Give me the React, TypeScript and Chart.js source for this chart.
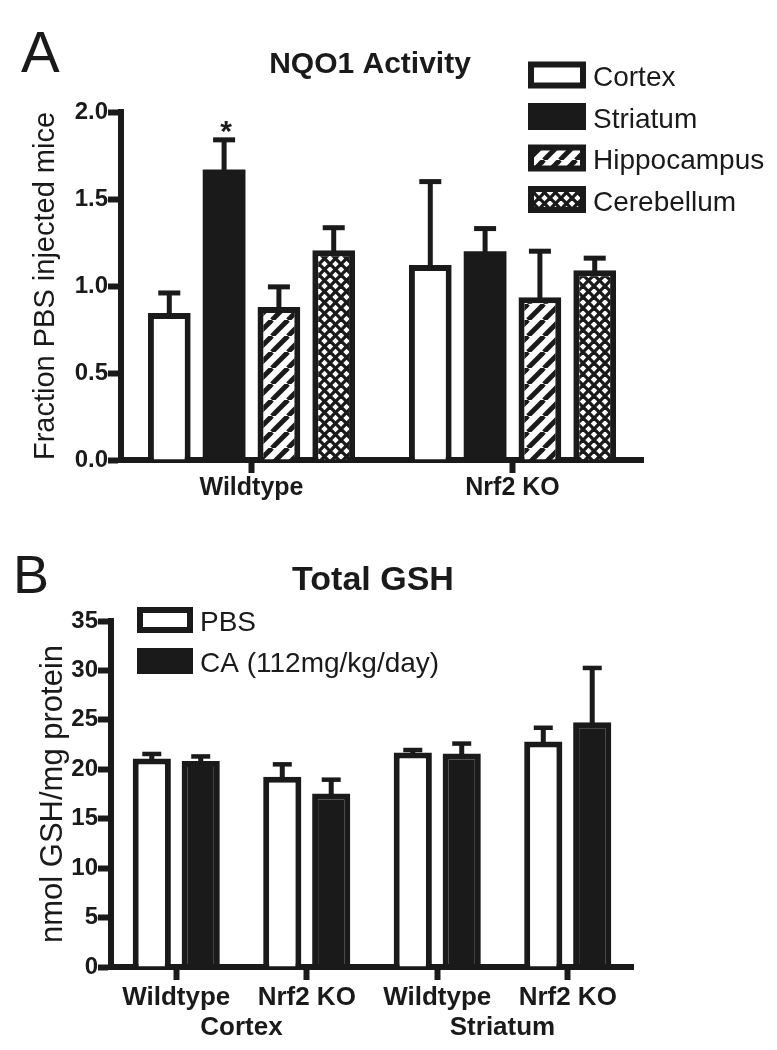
import React, { useEffect, useRef } from "react";
import { Chart, registerables } from "chart.js";

Chart.register(...registerables);

const FONT = '"Liberation Sans", Arial, Helvetica, sans-serif';
const INK = "#1a1a1a";

// ---------- Panel A : NQO1 Activity ----------
const panelLetterA = "A";
const titleA = "NQO1 Activity";
const yLabelA = "Fraction PBS injected mice";
const groupsA = ["Wildtype", "Nrf2 KO"];
const regionsA = ["Cortex", "Striatum", "Hippocampus", "Cerebellum"];
const cortexMean = [0.845, 1.12];
const cortexSem = [0.115, 0.48];
const striatumMean = [1.67, 1.2];
const striatumSem = [0.17, 0.13];
const hippocampusMean = [0.88, 0.935];
const hippocampusSem = [0.115, 0.265];
const cerebellumMean = [1.205, 1.09];
const cerebellumSem = [0.13, 0.07];
const significanceA = [
  ["", ""],
  ["*", ""],
  ["", ""],
  ["", ""],
];
const yMinA = 0;
const yMaxA = 2;
const yStepA = 0.5;

// ---------- Panel B : Total GSH ----------
const panelLetterB = "B";
const titleB = "Total GSH";
const yLabelB = "nmol GSH/mg protein";
const genotypesB = ["Wildtype", "Nrf2 KO", "Wildtype", "Nrf2 KO"];
const tissuesB = ["Cortex", "Striatum"];
const treatmentsB = ["PBS", "CA (112mg/kg/day)"];
const pbsMean = [21.1, 19.25, 21.7, 22.8];
const pbsSem = [0.45, 1.25, 0.25, 1.4];
const caMean = [20.85, 17.55, 21.6, 24.75];
const caSem = [0.45, 1.4, 1.0, 5.5];
const yMinB = 0;
const yMaxB = 35;
const yStepB = 5;

function makePattern(kind: "stripe" | "cross"): CanvasPattern {
  const c = document.createElement("canvas");
  const s = kind === "stripe" ? 16 : 11;
  c.width = s;
  c.height = s;
  const g = c.getContext("2d")!;
  g.fillStyle = "#fff";
  g.fillRect(0, 0, s, s);
  g.strokeStyle = INK;
  if (kind === "stripe") {
    g.lineWidth = 5;
    for (const o of [-s, 0, s]) {
      g.beginPath();
      g.moveTo(o, s);
      g.lineTo(o + s, 0);
      g.stroke();
    }
  } else {
    g.lineWidth = 3.3;
    for (const o of [-s, 0, s]) {
      g.beginPath();
      g.moveTo(o, s);
      g.lineTo(o + s, 0);
      g.stroke();
      g.beginPath();
      g.moveTo(o, 0);
      g.lineTo(o + s, s);
      g.stroke();
    }
  }
  return g.createPattern(c, "repeat")!;
}

function errorBars(id: string, lineW: number, capW: number, capT: number) {
  return {
    id,
    afterDatasetsDraw(chart: any) {
      const ctx = chart.ctx;
      const y = chart.scales.y;
      chart.data.datasets.forEach((ds: any, di: number) => {
        const meta = chart.getDatasetMeta(di);
        meta.data.forEach((el: any, i: number) => {
          const top = y.getPixelForValue(ds.data[i] + ds.sem[i]);
          ctx.save();
          ctx.fillStyle = INK;
          ctx.fillRect(el.x - lineW / 2, top, lineW, el.y - top + 2);
          ctx.fillRect(el.x - capW / 2, top - capT / 2, capW, capT);
          if (ds.sig && ds.sig[i]) {
            ctx.font = `bold 30px ${FONT}`;
            ctx.textAlign = "center";
            ctx.textBaseline = "alphabetic";
            ctx.fillText(ds.sig[i], el.x + 2, top + 1);
          }
          ctx.restore();
        });
      });
    },
  };
}

function drawLegendBox(ctx: CanvasRenderingContext2D, x: number, y: number, w: number, h: number, fill: any, bw: number) {
  ctx.fillStyle = INK;
  ctx.fillRect(x, y, w, h);
  ctx.fillStyle = fill;
  ctx.fillRect(x + bw, y + bw, w - 2 * bw, h - 2 * bw);
}

export default function App() {
  const refA = useRef<HTMLCanvasElement>(null);
  const refB = useRef<HTMLCanvasElement>(null);

  useEffect(() => {
    const stripe = makePattern("stripe");
    const cross = makePattern("cross");
    const fillsA = ["#ffffff", INK, stripe, cross];
    const meansA = [cortexMean, striatumMean, hippocampusMean, cerebellumMean];
    const semsA = [cortexSem, striatumSem, hippocampusSem, cerebellumSem];

    const decorA = {
      id: "decorA",
      afterDraw(chart: any) {
        const ctx = chart.ctx as CanvasRenderingContext2D;
        ctx.save();
        ctx.fillStyle = INK;
        ctx.textAlign = "left";
        ctx.textBaseline = "alphabetic";
        ctx.font = `58px ${FONT}`;
        ctx.fillText(panelLetterA, 21, 72);
        ctx.font = `bold 30px ${FONT}`;
        ctx.textAlign = "center";
        ctx.fillText(titleA, 370, 73);
        chart.data.datasets.forEach((ds: any, i: number) => {
          const cy = 75 + i * 41.5;
          drawLegendBox(ctx, 528, cy - 13.5, 58, 27, ds.backgroundColor, 6);
          ctx.fillStyle = INK;
          ctx.font = `28px ${FONT}`;
          ctx.textAlign = "left";
          ctx.fillText(ds.label, 593, cy + 11);
        });
        ctx.restore();
      },
    };

    const chartA = new Chart(refA.current!, {
      type: "bar",
      data: {
        labels: groupsA,
        datasets: regionsA.map((r, i) => ({
          label: r,
          data: meansA[i],
          sem: semsA[i],
          sig: significanceA[i],
          backgroundColor: fillsA[i],
          borderColor: INK,
          borderWidth: fillsA[i] === INK ? 0 : 6,
          categoryPercentage: 0.84,
          barPercentage: 0.78,
        })) as any,
      },
      options: {
        responsive: false,
        animation: false,
        events: [],
        layout: { padding: { left: 0, top: 112, right: 134, bottom: 0 } },
        plugins: { legend: { display: false }, tooltip: { enabled: false } },
        scales: {
          x: {
            z: 1,
            grid: { drawOnChartArea: false, offset: false, tickLength: 13, tickWidth: 6, tickColor: INK },
            border: { display: true, color: INK, width: 6 },
            ticks: { color: INK, padding: 0, font: { family: FONT, size: 25, weight: "bold" } },
            afterFit: (s: any) => {
              s.height = 45;
            },
          },
          y: {
            min: yMinA,
            max: yMaxA,
            grid: { drawOnChartArea: false, tickLength: 13, tickWidth: 6, tickColor: INK },
            border: { display: true, color: INK, width: 6 },
            ticks: {
              stepSize: yStepA,
              padding: 0,
              color: INK,
              font: { family: FONT, size: 24, weight: "bold" },
              callback: (v: any) => Number(v).toFixed(1),
            },
            title: {
              display: true,
              text: yLabelA,
              color: INK,
              font: { family: FONT, size: 29 },
              padding: { top: 29, bottom: 0 },
            },
            afterFit: (s: any) => {
              s.width = 121;
            },
          },
        },
      } as any,
      plugins: [errorBars("errA", 5, 22, 5), decorA],
    });

    const decorB = {
      id: "decorB",
      afterDraw(chart: any) {
        const ctx = chart.ctx as CanvasRenderingContext2D;
        const x = chart.scales.x;
        ctx.save();
        ctx.fillStyle = INK;
        ctx.textAlign = "left";
        ctx.textBaseline = "alphabetic";
        ctx.font = `54px ${FONT}`;
        ctx.fillText(panelLetterB, 13, 88);
        ctx.font = `bold 34px ${FONT}`;
        ctx.textAlign = "center";
        ctx.fillText(titleB, 373, 85);
        chart.data.datasets.forEach((ds: any, i: number) => {
          const cy = 115 + i * 41;
          drawLegendBox(ctx, 137, cy - 13, 56, 26, ds.backgroundColor, 6);
          ctx.fillStyle = INK;
          ctx.font = `28px ${FONT}`;
          ctx.textAlign = "left";
          ctx.fillText(ds.label, 200, cy + 10.5);
        });
        ctx.font = `bold 26px ${FONT}`;
        ctx.textAlign = "center";
        tissuesB.forEach((t, i) => {
          const cx = (x.getPixelForValue(i * 2) + x.getPixelForValue(i * 2 + 1)) / 2;
          ctx.fillText(t, cx, 530);
        });
        ctx.restore();
      },
    };

    const chartB = new Chart(refB.current!, {
      type: "bar",
      data: {
        labels: genotypesB,
        datasets: [
          {
            label: treatmentsB[0],
            data: pbsMean,
            sem: pbsSem,
            backgroundColor: "#ffffff",
            borderColor: INK,
            borderWidth: 6,
            categoryPercentage: 0.75,
            barPercentage: 0.78,
          },
          {
            label: treatmentsB[1],
            data: caMean,
            sem: caSem,
            backgroundColor: INK,
            borderColor: INK,
            borderWidth: 6,
            categoryPercentage: 0.75,
            barPercentage: 0.78,
          },
        ] as any,
      },
      options: {
        responsive: false,
        animation: false,
        events: [],
        layout: { padding: { left: 0, top: 116, right: 144, bottom: 0 } },
        plugins: { legend: { display: false }, tooltip: { enabled: false } },
        scales: {
          x: {
            z: 1,
            grid: { drawOnChartArea: false, offset: false, tickLength: 13, tickWidth: 6, tickColor: INK },
            border: { display: true, color: INK, width: 6 },
            ticks: { color: INK, padding: 2, font: { family: FONT, size: 26, weight: "bold" } },
            afterFit: (s: any) => {
              s.height = 83;
            },
          },
          y: {
            min: yMinB,
            max: yMaxB,
            grid: { drawOnChartArea: false, tickLength: 13, tickWidth: 6, tickColor: INK },
            border: { display: true, color: INK, width: 6 },
            ticks: {
              stepSize: yStepB,
              padding: 0,
              color: INK,
              font: { family: FONT, size: 24, weight: "bold" },
            },
            title: {
              display: true,
              text: yLabelB,
              color: INK,
              font: { family: FONT, size: 31 },
              padding: { top: 35, bottom: 0 },
            },
            afterFit: (s: any) => {
              s.width = 111;
            },
          },
        },
      } as any,
      plugins: [errorBars("errB", 5, 19, 4.5), decorB],
    });

    return () => {
      chartA.destroy();
      chartB.destroy();
    };
  }, []);

  return (
    <div style={{ position: "absolute", left: 0, top: 0, width: 777, height: 1050, background: "#fff" }}>
      <canvas ref={refA} width={777} height={505} style={{ display: "block", width: 777, height: 505 }} />
      <canvas ref={refB} width={777} height={545} style={{ display: "block", width: 777, height: 545 }} />
    </div>
  );
}
